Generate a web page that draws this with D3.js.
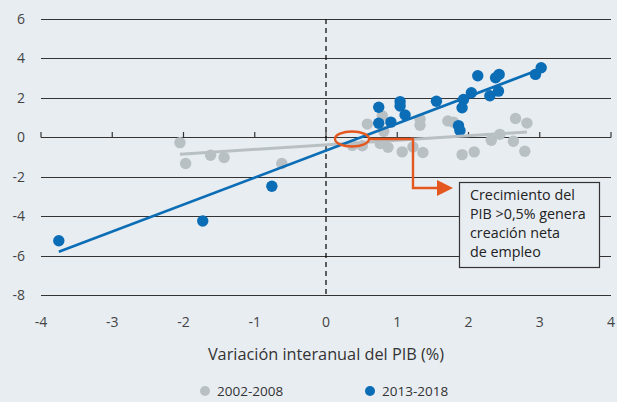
<!DOCTYPE html>
<html>
<head>
<meta charset="utf-8">
<script src="https://cdn.jsdelivr.net/npm/d3@7"></script>
<style>
  body { margin: 0; background: #e8edf2; }
  svg { display: block; font-family: "Open Sans", "Noto Sans", sans-serif; }
</style>
</head>
<body>
<script>
//data
var grayX = [-2.05, -1.97, -1.62, -1.43, -0.62, 0.37, 0.51, 0.58, 0.79, 0.81, 0.76, 0.87, 1.07, 1.22, 1.36, 1.32, 1.32, 1.71, 1.79, 1.91, 2.08, 2.32, 2.44, 2.63, 2.66, 2.82, 2.79];
var grayY = [-0.27, -1.33, -0.91, -1.03, -1.33, -0.41, -0.43, 0.67, 1.09, 0.30, -0.32, -0.51, -0.74, -0.49, -0.77, 0.91, 0.61, 0.83, 0.77, -0.88, -0.74, -0.15, 0.15, -0.20, 0.95, 0.72, -0.71];
var blueX = [-3.75, -1.73, -0.76, 0.74, 0.74, 0.91, 1.04, 1.04, 1.11, 1.55, 1.93, 1.91, 2.04, 2.13, 2.38, 2.43, 2.30, 2.42, 1.86, 1.88, 2.94, 3.02];
var blueY = [-5.25, -4.25, -2.48, 1.52, 0.71, 0.77, 1.81, 1.59, 1.13, 1.83, 1.92, 1.50, 2.26, 3.12, 3.02, 3.19, 2.11, 2.34, 0.59, 0.34, 3.19, 3.53];
//fitted lines [x start, x end, slope, intercept]
var grayFit = [-2.05, 2.82, 0.232, -0.385];
var blueFit = [-3.75, 2.94, 1.37, -0.67];
var xTicks = [-4, -3, -2, -1, 0, 1, 2, 3, 4];
var yTicks = [6, 4, 2, 0, -2, -4, -6, -8];
var noteLines = ["Crecimiento del", "PIB >0,5% genera", "creación neta", "de empleo"];
var legendLabels = ["2002-2008", "2013-2018"];

(function(){
    var width = 617, height = 402;
    var gray = "#b9c0c4", blue = "#0b6db5", orange = "#e4571e";

    var svg = d3.select("body").append("svg")
        .attr("width", width)
        .attr("height", height);

    var x = d3.scaleLinear().domain([-4, 4]).range([41, 611]);
    var y = d3.scaleLinear().domain([-8, 6]).range([295, 19]);

    //horizontal grid lines
    svg.selectAll(".grid")
        .data(yTicks)
        .enter()
        .append("line")
        .attr("x1", x(-4))
        .attr("x2", x(4))
        .attr("y1", function(d){ return Math.round(y(d)) + 0.5; })
        .attr("y2", function(d){ return Math.round(y(d)) + 0.5; })
        .attr("stroke", "#333")
        .attr("stroke-width", 1.2);

    //small ticks on the zero line
    svg.selectAll(".xtick")
        .data(xTicks)
        .enter()
        .append("line")
        .attr("x1", function(d){ return x(d); })
        .attr("x2", function(d){ return x(d); })
        .attr("y1", Math.round(y(0)) + 0.5)
        .attr("y2", Math.round(y(0)) - 5)
        .attr("stroke", "#333")
        .attr("stroke-width", 1.2);

    //dashed line at x = 0
    svg.append("line")
        .attr("x1", x(0)).attr("x2", x(0))
        .attr("y1", y(6)).attr("y2", y(-8))
        .attr("stroke", "#111")
        .attr("stroke-width", 1.3)
        .attr("stroke-dasharray", "5,4");

    //axis labels
    svg.selectAll(".ylab")
        .data(yTicks)
        .enter()
        .append("text")
        .attr("x", 25)
        .attr("y", function(d){ return y(d) + 5; })
        .attr("text-anchor", "end")
        .attr("font-size", 14)
        .attr("fill", "#444")
        .text(function(d){ return d; });

    svg.selectAll(".xlab")
        .data(xTicks)
        .enter()
        .append("text")
        .attr("x", function(d){ return x(d); })
        .attr("y", 327)
        .attr("text-anchor", "middle")
        .attr("font-size", 14)
        .attr("fill", "#444")
        .text(function(d){ return d; });

    svg.append("text")
        .attr("x", x(0))
        .attr("y", 360)
        .attr("text-anchor", "middle")
        .attr("font-size", 16.3)
        .attr("fill", "#333")
        .text("Variación interanual del PIB (%)");

    //scatter points
    svg.selectAll(".gray")
        .data(d3.range(grayX.length))
        .enter()
        .append("circle")
        .attr("cx", function(i){ return x(grayX[i]); })
        .attr("cy", function(i){ return y(grayY[i]); })
        .attr("r", 5.7)
        .attr("fill", gray);

    svg.selectAll(".blue")
        .data(d3.range(blueX.length))
        .enter()
        .append("circle")
        .attr("cx", function(i){ return x(blueX[i]); })
        .attr("cy", function(i){ return y(blueY[i]); })
        .attr("r", 5.7)
        .attr("fill", blue);

    //regression lines
    function fitLine(f, color, w){
        svg.append("line")
            .attr("x1", x(f[0])).attr("y1", y(f[2] * f[0] + f[3]))
            .attr("x2", x(f[1])).attr("y2", y(f[2] * f[1] + f[3]))
            .attr("stroke", color)
            .attr("stroke-width", w);
    }
    fitLine(grayFit, gray, 3);
    fitLine(blueFit, blue, 2.6);

    //annotation: ellipse, connector and arrow
    svg.append("ellipse")
        .attr("cx", 352).attr("cy", 139)
        .attr("rx", 17).attr("ry", 7.5)
        .attr("fill", "none")
        .attr("stroke", orange)
        .attr("stroke-width", 2.4);

    svg.append("path")
        .attr("d", "M369,139H413V188H440")
        .attr("fill", "none")
        .attr("stroke", orange)
        .attr("stroke-width", 2.4);

    svg.append("path")
        .attr("d", "M437,180L453,188L437,196Z")
        .attr("fill", orange);

    //note box
    svg.append("rect")
        .attr("x", 459.5).attr("y", 182.5)
        .attr("width", 140).attr("height", 85)
        .attr("fill", "#e8edf2")
        .attr("stroke", "#333")
        .attr("stroke-width", 1.2);

    svg.selectAll(".note")
        .data(noteLines)
        .enter()
        .append("text")
        .attr("x", 470)
        .attr("y", function(d, i){ return 200 + i * 19; })
        .attr("font-size", 14.3)
        .attr("fill", "#222")
        .text(function(d){ return d; });

    //legend
    var legX = [205, 370];
    var legColors = [gray, blue];
    legendLabels.forEach(function(lab, i){
        svg.append("circle")
            .attr("cx", legX[i]).attr("cy", 391)
            .attr("r", 5)
            .attr("fill", legColors[i]);
        svg.append("text")
            .attr("x", legX[i] + 12)
            .attr("y", 396)
            .attr("font-size", 13.5)
            .attr("fill", "#333")
            .text(lab);
    });
})();
</script>
</body>
</html>
